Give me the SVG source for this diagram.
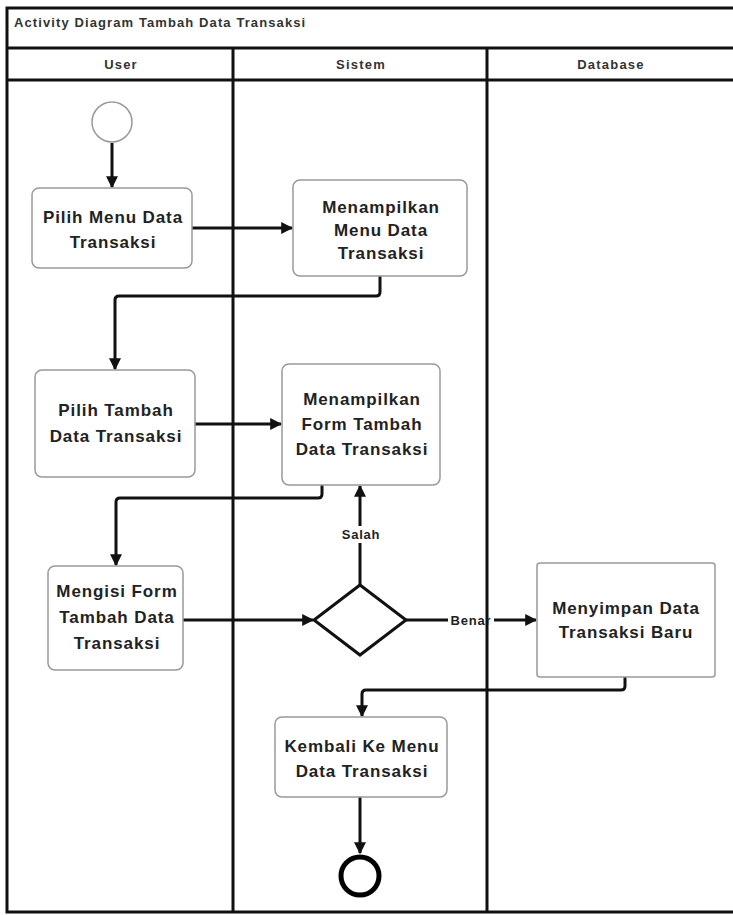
<svg xmlns="http://www.w3.org/2000/svg" width="733" height="915" viewBox="0 0 733 915">
<style>
.lane{fill:none;stroke:#111;stroke-width:3}
.hdr{font-family:"Liberation Sans",Arial,sans-serif;font-size:13px;font-weight:bold;letter-spacing:1.2px;fill:#333;text-anchor:middle}
.box{fill:#fff;stroke:#999;stroke-width:1.5}
.t{font-family:"Liberation Sans",Arial,sans-serif;font-size:17px;font-weight:bold;letter-spacing:0.9px;fill:#222;text-anchor:middle}
.c{fill:none;stroke:#111;stroke-width:3}
.lbl{font-family:"Liberation Sans",Arial,sans-serif;font-size:13px;font-weight:bold;letter-spacing:0.8px;fill:#222;text-anchor:middle}
</style>
<defs>
<marker id="ah" viewBox="0 0 10 10" refX="9" refY="5" markerWidth="4" markerHeight="4" orient="auto" markerUnits="strokeWidth">
<path d="M0,0 L10,5 L0,10 z" fill="#111"/>
</marker>
</defs>
<rect width="733" height="915" fill="#fff"/>
<g id="frame">
<rect class="lane" x="7" y="8" width="730" height="904"/>
<line class="lane" x1="7" y1="48" x2="737" y2="48"/>
<line class="lane" x1="7" y1="80" x2="737" y2="80"/>
<line class="lane" x1="233" y1="48" x2="233" y2="912"/>
<text x="14" y="27" font-family="Liberation Sans,Arial,sans-serif" font-size="13" font-weight="bold" letter-spacing="1.1" fill="#333">Activity Diagram Tambah Data Transaksi</text>
<text class="hdr" x="121" y="69">User</text>
<text class="hdr" x="361" y="69">Sistem</text>
<text class="hdr" x="611" y="69">Database</text>
</g>
<g id="connectors">
<line class="c" x1="112" y1="143" x2="112" y2="187" marker-end="url(#ah)"/>
<line class="c" x1="192" y1="228" x2="292" y2="228" marker-end="url(#ah)"/>
<path class="c" d="M380,276 V292 Q380,296 376,296 H119 Q115,296 115,300 V369" marker-end="url(#ah)"/>
<line class="c" x1="195" y1="424" x2="281" y2="424" marker-end="url(#ah)"/>
<path class="c" d="M322,485 V494 Q322,498 318,498 H120 Q116,498 116,502 V565" marker-end="url(#ah)"/>
<line class="c" x1="183" y1="620" x2="313" y2="620" marker-end="url(#ah)"/>
<line class="c" x1="360" y1="585" x2="360" y2="486" marker-end="url(#ah)"/>
<line class="c" x1="406" y1="620" x2="536" y2="620" marker-end="url(#ah)"/>
<path class="c" d="M625,677 V686 Q625,690 621,690 H366 Q362,690 362,694 V716" marker-end="url(#ah)"/>
<line class="c" x1="360" y1="797" x2="360" y2="853" marker-end="url(#ah)"/>
<rect x="337" y="526" width="46" height="17" fill="#fff"/>
<text class="lbl" x="361" y="539">Salah</text>
<rect x="448" y="612" width="46" height="16" fill="#fff"/>
<text class="lbl" x="471" y="625">Benar</text>
</g>
<g id="lane-divider"><line class="lane" x1="487" y1="48" x2="487" y2="912"/></g>
<g id="start"><circle cx="112" cy="122" r="20" fill="#fff" stroke="#999" stroke-width="1.5"/></g>
<g id="n1"><rect class="box" x="32" y="188" width="160" height="80" rx="7"/>
<text class="t" x="113" y="223">Pilih Menu Data</text><text class="t" x="113" y="248">Transaksi</text></g>
<g id="n2"><rect class="box" x="293" y="180" width="174" height="96" rx="7"/>
<text class="t" x="381" y="213">Menampilkan</text><text class="t" x="381" y="236">Menu Data</text><text class="t" x="381" y="259">Transaksi</text></g>
<g id="n3"><rect class="box" x="35" y="370" width="160" height="107" rx="7"/>
<text class="t" x="116" y="416">Pilih Tambah</text><text class="t" x="116" y="442">Data Transaksi</text></g>
<g id="n4"><rect class="box" x="282" y="364" width="158" height="121" rx="7"/>
<text class="t" x="362" y="405">Menampilkan</text><text class="t" x="362" y="430">Form Tambah</text><text class="t" x="362" y="455">Data Transaksi</text></g>
<g id="n5"><rect class="box" x="48" y="566" width="135" height="104" rx="7"/>
<text class="t" x="117" y="597">Mengisi Form</text><text class="t" x="117" y="623">Tambah Data</text><text class="t" x="117" y="649">Transaksi</text></g>
<g id="decision"><polygon points="360,585 406,620 360,655 314,620" fill="#fff" stroke="#111" stroke-width="3"/></g>
<g id="n6"><rect class="box" x="537" y="563" width="178" height="114" rx="3"/>
<text class="t" x="626" y="614">Menyimpan Data</text><text class="t" x="626" y="638">Transaksi Baru</text></g>
<g id="n7"><rect class="box" x="275" y="717" width="172" height="80" rx="7"/>
<text class="t" x="362" y="752">Kembali Ke Menu</text><text class="t" x="362" y="777">Data Transaksi</text></g>
<g id="end"><circle cx="360" cy="876" r="19" fill="#fff" stroke="#000" stroke-width="5"/></g>
</svg>
